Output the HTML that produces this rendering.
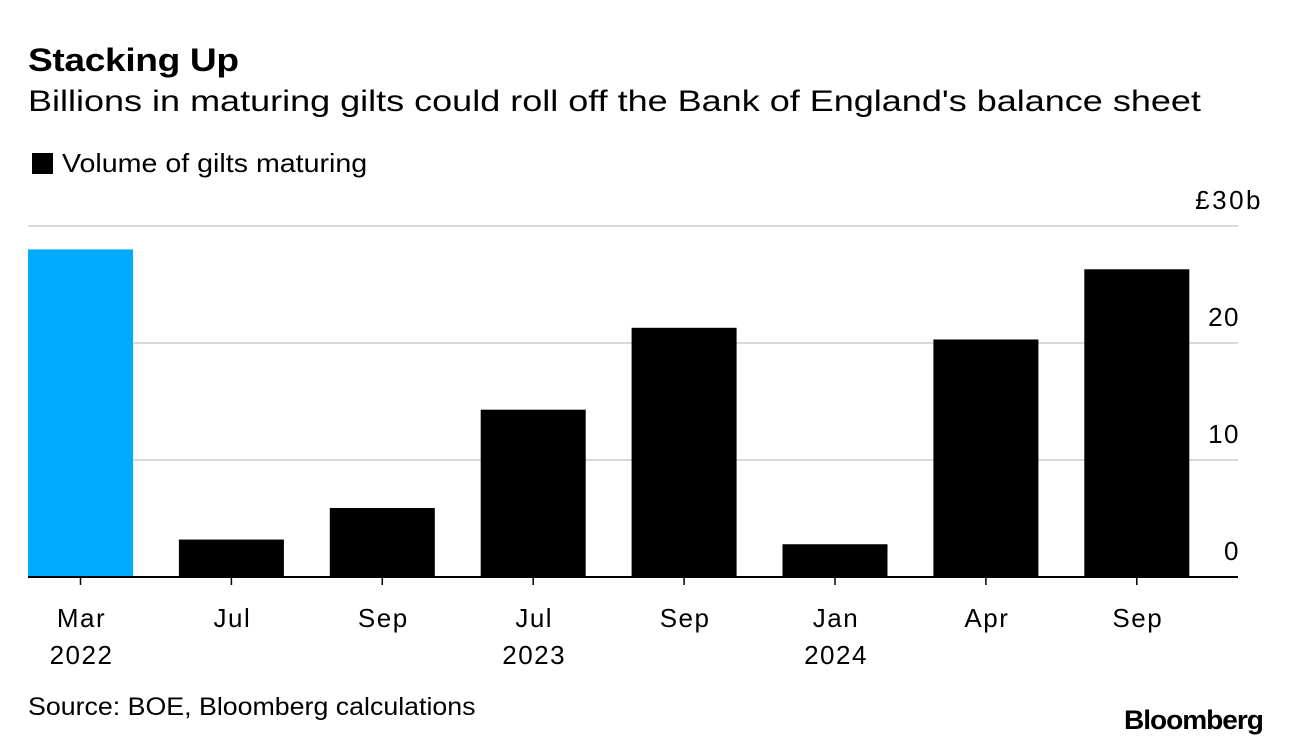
<!DOCTYPE html>
<html><head><meta charset="utf-8"><style>
body{margin:0;background:#fff;width:1292px;height:748px;overflow:hidden;font-family:"Liberation Sans",sans-serif;}
.t{position:absolute;white-space:nowrap;color:#000;transform-origin:0 0}
</style></head><body>
<div class="t" style="left:28px;top:42px;font-size:32px;font-weight:bold;letter-spacing:-0.3px;transform:scaleX(1.16)">Stacking Up</div>
<div class="t" style="left:28px;top:85px;font-size:30px;transform:scaleX(1.2)">Billions in maturing gilts could roll off the Bank of England's balance sheet</div>
<div class="t" style="left:32px;top:148px;font-size:26px"><span style="display:inline-block;width:21px;height:21px;background:#000;vertical-align:-2px;margin-right:9px"></span><span style="display:inline-block;transform:scaleX(1.1);transform-origin:0 0">Volume of gilts maturing</span></div>
<svg id="c" width="1292" height="748" style="position:absolute;left:0;top:0"></svg>
<div class="t" style="left:28px;top:693px;font-size:25px;transform:scaleX(1.07)">Source: BOE, Bloomberg calculations</div>
<div class="t" style="left:1124px;top:705px;font-size:27px;font-weight:bold;letter-spacing:-1px;transform:scaleX(1.04)">Bloomberg</div>
<script>
const categories=["Mar|2022","Jul","Sep","Jul|2023","Sep","Jan|2024","Apr","Sep"];
const values=[28.0,3.2,5.9,14.3,21.3,2.8,20.3,26.3];
const colors=["#00aaff","#000","#000","#000","#000","#000","#000","#000"];
const ticks=[0,10,20,30];
const tickLabels=["0","10","20","£30b"];
const NS="http://www.w3.org/2000/svg",svg=document.getElementById("c");
const y0=577,yPer=11.7,x0=28,step=150.9,bw=105;
const y=v=>y0-v*yPer, x=i=>x0+i*step;
function mk(t,a){const e=document.createElementNS(NS,t);for(const k in a)e.setAttribute(k,a[k]);svg.appendChild(e);return e;}
ticks.forEach((t,i)=>{
 if(t>0){const g=mk("line",{x1:28,x2:1238,y1:y(t),y2:y(t),stroke:"#d9d9d9","stroke-width":2});
 
 }
 const l=mk("text",{x:i==3?1263:1240,y:y(t)-17,"text-anchor":"end","font-size":26,"letter-spacing":i==3?2.5:1.5,fill:"#000"});
 l.textContent=tickLabels[i];
 
 
});
values.forEach((v,i)=>{
 const r=mk("rect",{x:x(i),y:y(v),width:bw,height:v*yPer,fill:colors[i]});
 
 
 const cx=x(i)+bw/2;
 const tk=mk("line",{x1:cx,x2:cx,y1:y0,y2:y0+8,stroke:"#000","stroke-width":1.5});
 
 
 categories[i].split("|").forEach((s,j)=>{
  const t=mk("text",{x:cx+1,y:627+j*37,"text-anchor":"middle","font-size":26,"letter-spacing":1.5,fill:"#000"});
  t.textContent=s;
  
  
 });
});
const ax=mk("line",{x1:28,x2:1238,y1:y0,y2:y0,stroke:"#000","stroke-width":2});


</script>
</body></html>
